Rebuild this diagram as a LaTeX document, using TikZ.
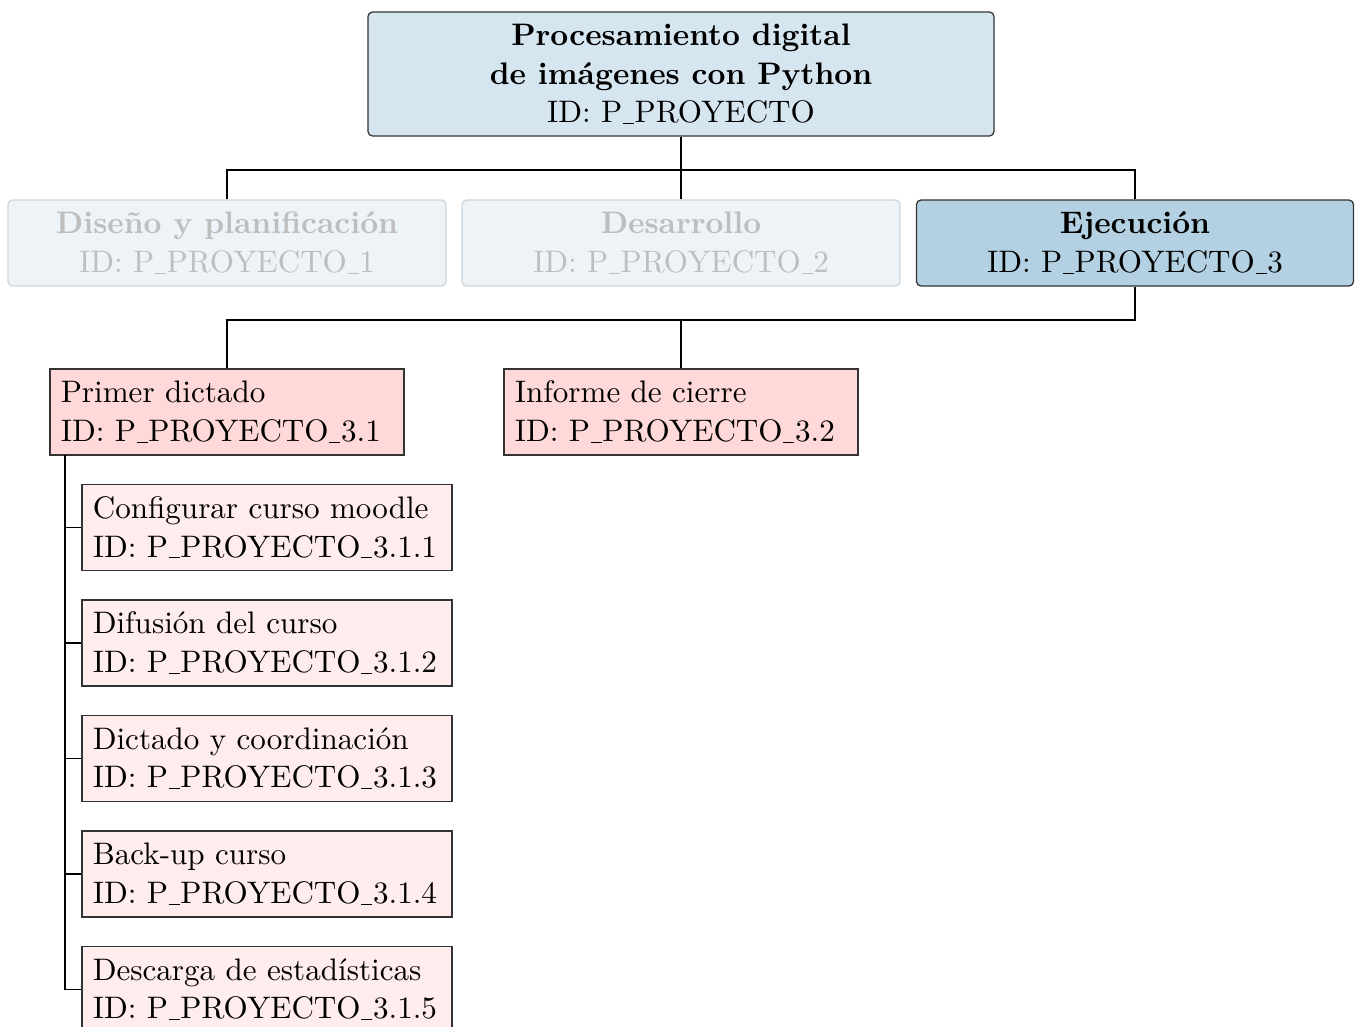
\documentclass[tikz,border=0pt]{standalone}
\usetikzlibrary{calc}
\definecolor{rootfill}{HTML}{D6E6F0}
\definecolor{activefill}{HTML}{B3D1E2}
\definecolor{fadefill}{HTML}{EEF3F7}
\definecolor{fadeedge}{HTML}{CDD6DD}
\definecolor{fadetext}{HTML}{BEBEBE}
\definecolor{taskfill}{HTML}{FFD9DA}
\definecolor{subfill}{HTML}{FFECEC}
\definecolor{edgecol}{HTML}{333333}
\newdimen\pxu
\pxu=0.352pt
\newcommand\wbsfont{\fontsize{10.95pt}{13.6pt}\selectfont}
% rule-style underscore
\newcommand\usc{\leavevmode\kern.02em\lower.5pt\hbox{\vrule width.36em height.42pt depth0pt}\kern.02em}
\tikzset{
  wbox/.style={draw=edgecol, line width=0.45pt, inner xsep=3.8pt, inner ysep=2pt,
    minimum height={86*\pxu}, font=\wbsfont},
  rootbox/.style={wbox, rounded corners=1.6pt, fill=rootfill, align=center,
    minimum width={626*\pxu}, minimum height={124*\pxu}},
  fadebox/.style={wbox, rounded corners=1.6pt, fill=fadefill, draw=fadeedge,
    text=fadetext, align=center, minimum width={438*\pxu}},
  activebox/.style={wbox, rounded corners=1.6pt, fill=activefill, align=center,
    minimum width={437*\pxu}},
  taskbox/.style={wbox, fill=taskfill, align=left,
    text width={354*\pxu-7.6pt}},
  subbox/.style={wbox, fill=subfill, align=left,
    text width={370*\pxu-7.6pt}},
  link/.style={draw=black, line width=0.45pt}
}
\begin{document}
\begin{tikzpicture}[x=0.352pt, y=-0.352pt]
\useasboundingbox (0,0) rectangle (1359,1027);

% root
\node[rootbox] (root) at (681,74)
  {\bfseries Procesamiento digital\\ \bfseries de imágenes con Python\\ ID:~P\usc PROYECTO};

% phases
\node[fadebox] (ph1) at (227,243) {\bfseries Diseño y planificación\\ ID:~P\usc PROYECTO\usc 1};
\node[fadebox] (ph2) at (681,243) {\bfseries Desarrollo\\ ID:~P\usc PROYECTO\usc 2};
\node[activebox] (ph3) at (1135,243) {\bfseries Ejecución\\ ID:~P\usc PROYECTO\usc 3};

% deliverables of the execution phase
\node[taskbox] (t1) at (227,412) {Primer dictado\\ ID:~P\usc PROYECTO\usc 3.1};
\node[taskbox] (t2) at (681,412) {Informe de cierre\\ ID:~P\usc PROYECTO\usc 3.2};

% work packages of the first course
\node[subbox] (s1) at (267,527.5) {\mbox{Configurar curso moodle}\\ ID:~P\usc PROYECTO\usc 3.1.1};
\node[subbox] (s2) at (267,643) {Difusión del curso\\ ID:~P\usc PROYECTO\usc 3.1.2};
\node[subbox] (s3) at (267,758.5) {Dictado y coordinación\\ ID:~P\usc PROYECTO\usc 3.1.3};
\node[subbox] (s4) at (267,874) {Back-up curso\\ ID:~P\usc PROYECTO\usc 3.1.4};
\node[subbox] (s5) at (267,989.5) {\mbox{Descarga de estadísticas}\\ ID:~P\usc PROYECTO\usc 3.1.5};

% bus lines
\coordinate (bus1) at (681,170);
\coordinate (bus2) at (681,320);
\coordinate (rail) at (65,455);

\draw[link] (root.south) -- (bus1);
\draw[link] (ph1.north) |- (bus1) -| (ph3.north);
\draw[link] (ph2.north) -- (bus1);

\draw[link] (ph3.south) |- (t1.north |- bus2) -- (t1.north);
\draw[link] (t2.north) -- (t2.north |- bus2);

\foreach \k in {s1,s2,s3,s4,s5}
  \draw[link] (rail) |- (\k.west);
\end{tikzpicture}
\end{document}
